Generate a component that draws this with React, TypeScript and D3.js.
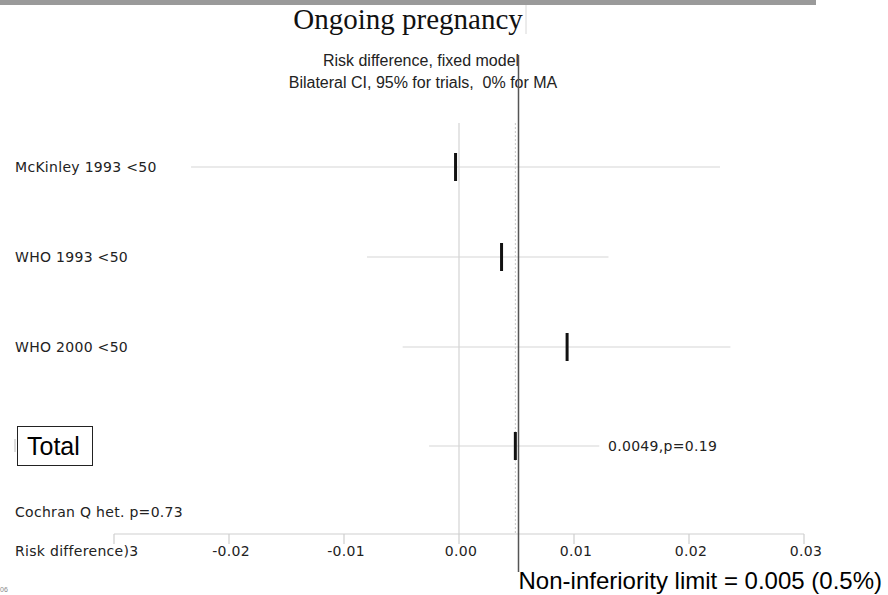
import React, { useRef, useEffect } from "react";
import * as d3 from "d3";

// forest plot data (risk difference)
const studies = ["McKinley 1993 <50", "WHO 1993 <50", "WHO 2000 <50", "Total"];
const rowSlots = [0, 1, 2, 3.1];
const estimates = [-0.0003, 0.0037, 0.0094, 0.0049];
const lower = [-0.0233, -0.008, -0.0049, -0.0026];
const upper = [0.0227, 0.013, 0.0236, 0.0122];
const xTicks = [-0.03, -0.02, -0.01, 0, 0.01, 0.02, 0.03];
const xLabels = [-0.02, -0.01, 0, 0.01, 0.02, 0.03];
const nonInferiority = 0.005;
const totalText = "0.0049,p=0.19";
const hetText = "Cochran Q het. p=0.73";

const App = () => {
  const chartRef = useRef<HTMLDivElement>(null);

  useEffect(() => {
    const width = 888;
    const height = 595;
    const sans = "'DejaVu Sans', Verdana, sans-serif";
    const arial = "'Liberation Sans', Arial, sans-serif";

    const x = d3.scaleLinear().domain([-0.03, 0.03]).range([114, 804]);
    const y = d3.scaleLinear().domain([0, 1]).range([167, 257]);
    const axisY = 534;

    const label = (sel) => sel
      .style("font-family", sans)
      .style("font-size", "14px")
      .style("letter-spacing", "0.3px")
      .attr("fill", "#222");

    const svg = d3.create("svg")
      .attr("width", width)
      .attr("height", height)
      .attr("viewBox", [0, 0, width, height])
      .style("display", "block")
      .style("background", "#fff");

    // top gray bar
    svg.append("rect").attr("x", 0).attr("y", 0).attr("width", 816).attr("height", 5).attr("fill", "#9a9a9a");

    // title
    svg.append("line").attr("x1", 526).attr("x2", 526).attr("y1", 5).attr("y2", 34).attr("stroke", "#d8d8d8");
    svg.append("text")
      .attr("x", 408).attr("y", 29)
      .attr("text-anchor", "middle")
      .style("font-family", "'Liberation Serif', 'Times New Roman', serif")
      .style("font-size", "29px")
      .attr("fill", "#111")
      .text("Ongoing pregnancy");

    svg.append("text")
      .attr("x", 421).attr("y", 66)
      .attr("text-anchor", "middle")
      .style("font-family", arial).style("font-size", "16px")
      .attr("fill", "#222")
      .text("Risk difference, fixed model");
    svg.append("text")
      .attr("x", 423).attr("y", 88)
      .attr("text-anchor", "middle")
      .style("font-family", arial).style("font-size", "16px")
      .attr("fill", "#222")
      .attr("xml:space", "preserve")
      .text("Bilateral CI, 95% for trials,  0% for MA");

    // reference lines
    svg.append("line")
      .attr("x1", x(0)).attr("x2", x(0))
      .attr("y1", 123).attr("y2", axisY)
      .attr("stroke", "#d4d4d4").attr("stroke-width", 1.2);
    svg.append("line")
      .attr("x1", x(estimates[3])).attr("x2", x(estimates[3]))
      .attr("y1", 123).attr("y2", axisY)
      .attr("stroke", "#c8c8c8").attr("stroke-dasharray", "2,2");

    // confidence intervals
    const rows = svg.append("g");
    studies.forEach((s, i) => {
      const cy = y(rowSlots[i]);
      rows.append("line")
        .attr("x1", x(lower[i])).attr("x2", x(upper[i]))
        .attr("y1", cy).attr("y2", cy)
        .attr("stroke", "#d6d6d6").attr("stroke-width", 1.2);
      rows.append("line")
        .attr("x1", x(estimates[i])).attr("x2", x(estimates[i]))
        .attr("y1", cy - 14).attr("y2", cy + 14)
        .attr("stroke", "#111").attr("stroke-width", 3);
      if (s !== "Total") {
        rows.append("text")
          .attr("x", 15).attr("y", cy + 5)
          .call(label)
          .text(s);
      }
    });

    // Total box
    const ty = y(rowSlots[3]);
    svg.append("line").attr("x1", 15).attr("x2", 15).attr("y1", ty - 7).attr("y2", ty + 6).attr("stroke", "#bbb");
    svg.append("rect")
      .attr("x", 17.5).attr("y", ty - 19.5)
      .attr("width", 75).attr("height", 39)
      .attr("fill", "#fff").attr("stroke", "#222");
    svg.append("text")
      .attr("x", 27).attr("y", ty + 9)
      .style("font-family", arial).style("font-size", "25px")
      .attr("fill", "#000")
      .text("Total");
    svg.append("text")
      .attr("x", 608).attr("y", ty + 5)
      .call(label)
      .text(totalText);

    svg.append("text")
      .attr("x", 15).attr("y", 517)
      .call(label)
      .text(hetText);

    // x axis
    const axis = svg.append("g");
    axis.append("line")
      .attr("x1", x(-0.03)).attr("x2", x(0.03))
      .attr("y1", axisY).attr("y2", axisY)
      .attr("stroke", "#cfcfcf").attr("stroke-width", 1.2);
    axis.selectAll("line.tick")
      .data(xTicks)
      .join("line")
      .attr("class", "tick")
      .attr("x1", d => x(d)).attr("x2", d => x(d))
      .attr("y1", axisY).attr("y2", axisY + 10)
      .attr("stroke", "#cfcfcf").attr("stroke-width", 1.2);
    axis.selectAll("text")
      .data(xLabels)
      .join("text")
      .attr("x", d => x(d) + 2).attr("y", 556)
      .attr("text-anchor", "middle")
      .call(label)
      .text(d => d.toFixed(2));

    svg.append("text")
      .attr("x", 15).attr("y", 556)
      .call(label)
      .text("Risk difference)3");

    // non-inferiority limit
    svg.append("line")
      .attr("x1", x(nonInferiority) + 2).attr("x2", x(nonInferiority) + 2)
      .attr("y1", 55).attr("y2", 572)
      .attr("stroke", "#555").attr("stroke-width", 1.5);
    svg.append("text")
      .attr("x", 882).attr("y", 589)
      .attr("text-anchor", "end")
      .style("font-family", arial).style("font-size", "24px")
      .attr("fill", "#000")
      .text("Non-inferiority limit = 0.005 (0.5%)");

    svg.append("text")
      .attr("x", 0).attr("y", 592)
      .style("font-family", arial).style("font-size", "7px")
      .attr("fill", "#888")
      .text("06");

    chartRef.current!.innerHTML = "";
    chartRef.current!.appendChild(svg.node()!);
  }, []);

  return <div ref={chartRef} style={{ position: "absolute", left: 0, top: 0 }} />;
};

export default App;
